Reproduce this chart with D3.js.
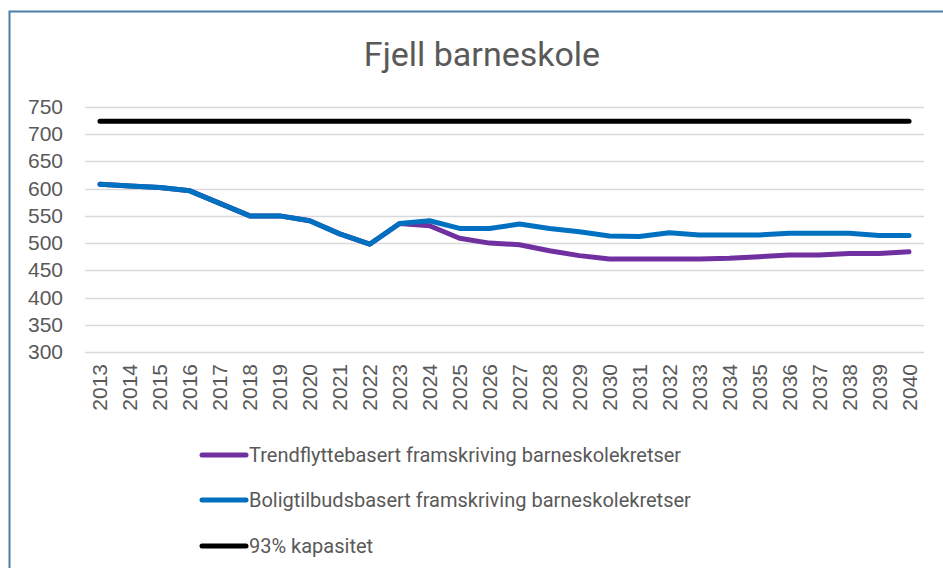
<!DOCTYPE html>
<html>
<head>
<meta charset="utf-8">
<script src="https://cdn.jsdelivr.net/npm/d3@7"></script>
<style>
  body { margin: 0; background: #fff; }
  svg { display: block; }
</style>
</head>
<body>
<script>
var years = d3.range(2013, 2041).map(String);
var yTicks = [300, 350, 400, 450, 500, 550, 600, 650, 700, 750];

// Boligtilbudsbasert (blue)
var boligtilbud = [608, 605, 602, 596, 573, 550, 550, 541, 517, 498, 536, 541, 527, 527, 535, 527, 521, 513,
                   512, 519, 515, 515, 515, 518, 518, 518, 514, 514];
// Trendflyttebasert (purple) - same history up to 2023
var trendflytte = [608, 605, 602, 596, 573, 550, 550, 541, 517, 498, 536, 532, 509, 500, 497, 486, 477, 471,
                   471, 471, 471, 472, 475, 478, 478, 481, 481, 484];
var kapasitet = years.map(function() { return 724; });

var seriesNames = ["Trendflyttebasert framskriving barneskolekretser",
                   "Boligtilbudsbasert framskriving barneskolekretser",
                   "93% kapasitet"];
var seriesColors = ["#7030a0", "#0070c0", "#000000"];

var w = 943, h = 568;
var margin = { left: 85, right: 19, top: 107, bottom: 216 };

var svg = d3.select("body").append("svg")
    .attr("width", w)
    .attr("height", h);

// frame
svg.append("rect")
    .attr("x", 9.5).attr("y", 11.5)
    .attr("width", 960).attr("height", 600)
    .attr("fill", "none")
    .attr("stroke", "#4a7ea6")
    .attr("stroke-width", 2);

svg.append("text")
    .attr("x", 482).attr("y", 66)
    .attr("text-anchor", "middle")
    .attr("font-family", "Roboto, sans-serif")
    .attr("font-size", 34)
    .attr("fill", "#595959")
    .text("Fjell barneskole");

var x = d3.scaleBand()
    .domain(years)
    .range([margin.left, w - margin.right]);

var y = d3.scaleLinear()
    .domain([300, 750])
    .range([h - margin.bottom, margin.top]);

// gridlines
svg.append("g")
    .selectAll("line")
    .data(yTicks)
    .enter()
    .append("line")
    .attr("x1", margin.left)
    .attr("x2", w - margin.right)
    .attr("y1", function(d) { return Math.round(y(d)) + 0.5; })
    .attr("y2", function(d) { return Math.round(y(d)) + 0.5; })
    .attr("stroke", "#d9d9d9")
    .attr("stroke-width", 1.3);

// y labels
svg.append("g")
    .selectAll("text")
    .data(yTicks)
    .enter()
    .append("text")
    .attr("x", 63)
    .attr("y", function(d) { return y(d) + 7; })
    .attr("text-anchor", "end")
    .attr("font-family", "Liberation Sans, Arial, sans-serif")
    .attr("font-size", 21)
    .attr("fill", "#595959")
    .text(function(d) { return d; });

// x labels, rotated
svg.append("g")
    .selectAll("text")
    .data(years)
    .enter()
    .append("text")
    .attr("transform", function(d) {
        return "translate(" + (x(d) + x.bandwidth() / 2 + 7.5) + "," + 364 + ") rotate(-90)";
    })
    .attr("text-anchor", "end")
    .attr("font-family", "Liberation Sans, Arial, sans-serif")
    .attr("font-size", 21)
    .attr("fill", "#595959")
    .text(function(d) { return d; });

var line = d3.line()
    .x(function(d, i) { return x(years[i]) + x.bandwidth() / 2; })
    .y(function(d) { return y(d); });

[trendflytte, boligtilbud, kapasitet].forEach(function(s, i) {
    svg.append("path")
        .datum(s)
        .attr("d", line)
        .attr("fill", "none")
        .attr("stroke", seriesColors[i])
        .attr("stroke-width", 5)
        .attr("stroke-linecap", "round")
        .attr("stroke-linejoin", "round");
});

// legend
var legendY = [455, 500, 546];
var lg = svg.append("g");
seriesNames.forEach(function(name, i) {
    lg.append("line")
        .attr("x1", 202).attr("x2", 246)
        .attr("y1", legendY[i]).attr("y2", legendY[i])
        .attr("stroke", seriesColors[i])
        .attr("stroke-width", 5)
        .attr("stroke-linecap", "round");
    lg.append("text")
        .attr("x", 249)
        .attr("y", legendY[i] + 7)
        .attr("font-family", "Roboto, sans-serif")
        .attr("font-size", 20)
        .attr("fill", "#595959")
        .text(name);
});
</script>
</body>
</html>
